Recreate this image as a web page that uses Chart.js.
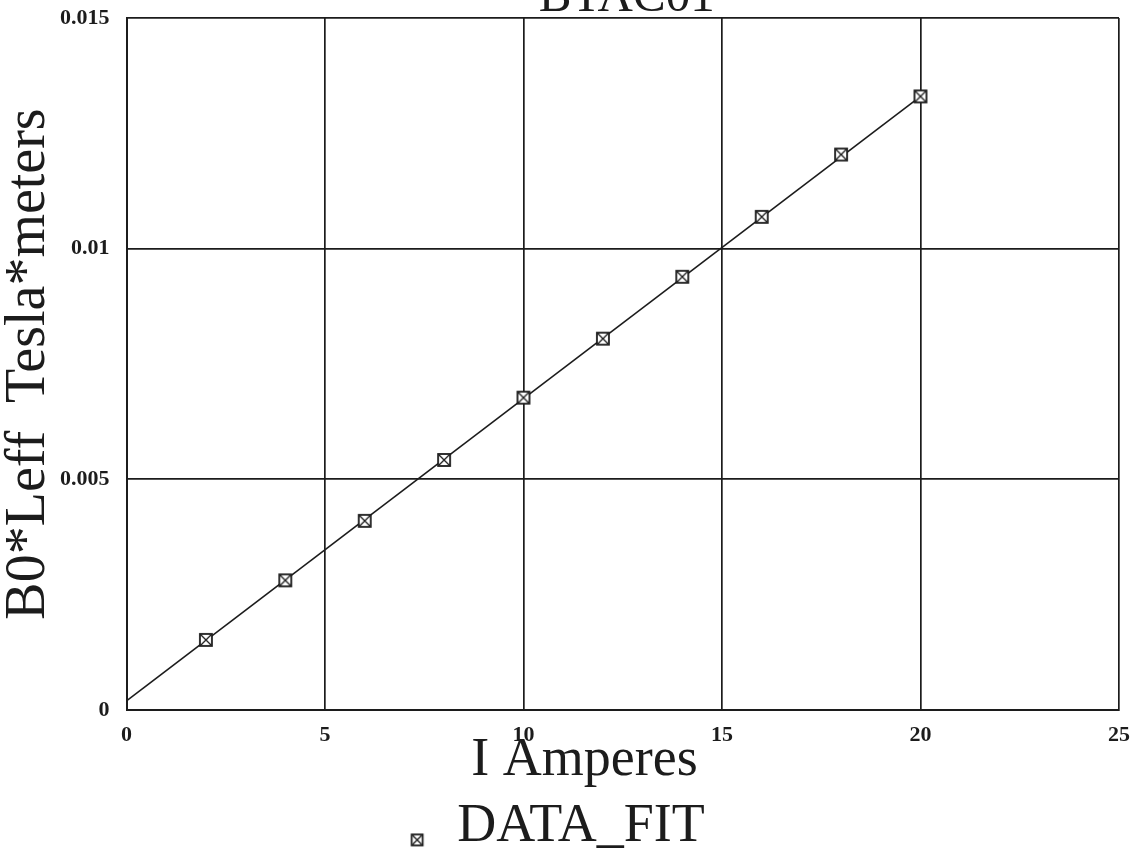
<!DOCTYPE html>
<html>
<head>
<meta charset="utf-8">
<script src="https://cdn.jsdelivr.net/npm/chart.js@4"></script>
<style>
  html, body { margin: 0; padding: 0; background: #ffffff; }
  #wrap { width: 1136px; height: 850px; }
</style>
</head>
<body>
<div id="wrap"><canvas id="chart" width="1136" height="850"></canvas></div>
<script>
// Measured magnet current (A) and integrated field B0*Leff (T*m)
const currentA = [2, 4, 6, 8, 10, 12, 14, 16, 18, 20];
const fieldIntegral = [0.00152, 0.00281, 0.0041, 0.00542, 0.00677, 0.00805, 0.00939, 0.01069, 0.01204, 0.0133];

// Straight-line fit through the measurements
const fitCurrent = [0, 20];
const fitField = [0.0002, 0.0133];

// Axis ticks
const xTickValues = [0, 5, 10, 15, 20, 25];
const xTickLabels = ['0', '5', '10', '15', '20', '25'];
const yTickValues = [0, 0.005, 0.01, 0.015];
const yTickLabels = ['0', '0.005', '0.01', '0.015'];

const chartTitle = 'BTAC01';
const xTitle = 'I Amperes';
const yTitle = 'B0*Leff  Tesla*meters';
const seriesName = 'DATA_FIT';

const SERIF = '"Liberation Serif", "Times New Roman", serif';
const INK = '#1c1c1c';

// Boxed-cross marker drawn on a small canvas
function boxCross(size, w, h, cx, cy) {
  const c = document.createElement('canvas');
  c.width = w; c.height = h;
  const g = c.getContext('2d');
  const x0 = cx - size / 2, y0 = cy - size / 2;
  g.fillStyle = '#ffffff';
  g.fillRect(x0, y0, size, size);
  g.strokeStyle = INK;
  g.lineWidth = 1.8;
  g.strokeRect(x0, y0, size, size);
  g.beginPath();
  g.moveTo(x0 + 1, y0 + 1); g.lineTo(x0 + size - 1, y0 + size - 1);
  g.moveTo(x0 + size - 1, y0 + 1); g.lineTo(x0 + 1, y0 + size - 1);
  g.lineWidth = 1.3;
  g.stroke();
  return c;
}
const pointMarker = boxCross(12, 16, 16, 8, 8);
const legendMarker = boxCross(11, 40, 46, 15, 36.5);

// Page title at the very top edge (partly clipped) and the current-axis caption
const captions = {
  id: 'captions',
  afterDraw(chart) {
    const { ctx, chartArea } = chart;
    ctx.save();
    ctx.fillStyle = INK;
    ctx.textAlign = 'center';
    ctx.textBaseline = 'alphabetic';
    ctx.font = '49px ' + SERIF;
    ctx.fillText(chartTitle, (chartArea.left + chartArea.right) / 2 + 4, chartArea.top - 7);
    ctx.font = '54px ' + SERIF;
    ctx.fillText(xTitle, chartArea.left + 458, chartArea.bottom + 65);
    ctx.restore();
  }
};

const points = currentA.map((x, i) => ({ x, y: fieldIntegral[i] }));
const fitLine = fitCurrent.map((x, i) => ({ x, y: fitField[i] }));

const gridStyle = { color: INK, lineWidth: 1.7, drawTicks: false };
const borderStyle = { display: true, color: INK, width: 2 };
const tickFont = { family: SERIF, size: 22, weight: 'bold' };

new Chart(document.getElementById('chart'), {
  type: 'scatter',
  data: {
    datasets: [
      {
        label: seriesName,
        data: points,
        showLine: false,
        pointStyle: pointMarker,
        pointRadius: 6,
        order: 0
      },
      {
        label: 'fit',
        data: fitLine,
        showLine: true,
        borderColor: INK,
        borderWidth: 1.6,
        pointRadius: 0,
        fill: false,
        order: 1
      }
    ]
  },
  options: {
    responsive: false,
    animation: false,
    devicePixelRatio: 1,
    layout: { autoPadding: false, padding: { left: 0, right: 17, top: 18, bottom: -13.4 } },
    scales: {
      x: {
        type: 'linear',
        min: 0, max: 25,
        afterBuildTicks: (axis) => { axis.ticks = xTickValues.map(v => ({ value: v })); },
        afterFit: (axis) => { axis.paddingLeft = 0; axis.paddingRight = 0; },
        ticks: {
          color: INK, font: tickFont, padding: 12, maxRotation: 0, autoSkip: false,
          callback: (v) => xTickLabels[xTickValues.indexOf(v)]
        },
        grid: gridStyle,
        border: borderStyle
      },
      y: {
        type: 'linear',
        min: 0, max: 0.015,
        afterBuildTicks: (axis) => { axis.ticks = yTickValues.map(v => ({ value: v })); },
        afterFit: (axis) => { axis.paddingTop = 0; axis.paddingBottom = 0; },
        ticks: {
          color: INK, font: tickFont, padding: 17, autoSkip: false,
          callback: (v) => yTickLabels[yTickValues.indexOf(v)]
        },
        grid: gridStyle,
        border: borderStyle,
        title: {
          display: true, text: yTitle, color: INK,
          font: { family: SERIF, size: 56, lineHeight: 1 },
          padding: { top: 1, bottom: -14 }
        }
      }
    },
    plugins: {
      tooltip: { enabled: false },
      legend: {
        position: 'bottom',
        labels: {
          usePointStyle: true,
          pointStyleWidth: 16,
          padding: 39,
          color: INK,
          font: { family: SERIF, size: 54 },
          filter: (item) => item.datasetIndex === 0,
          generateLabels(chart) {
            const items = Chart.defaults.plugins.legend.labels.generateLabels(chart);
            items.forEach(it => { it.pointStyle = legendMarker; });
            return items;
          }
        }
      }
    }
  },
  plugins: [captions]
});
</script>
</body>
</html>
